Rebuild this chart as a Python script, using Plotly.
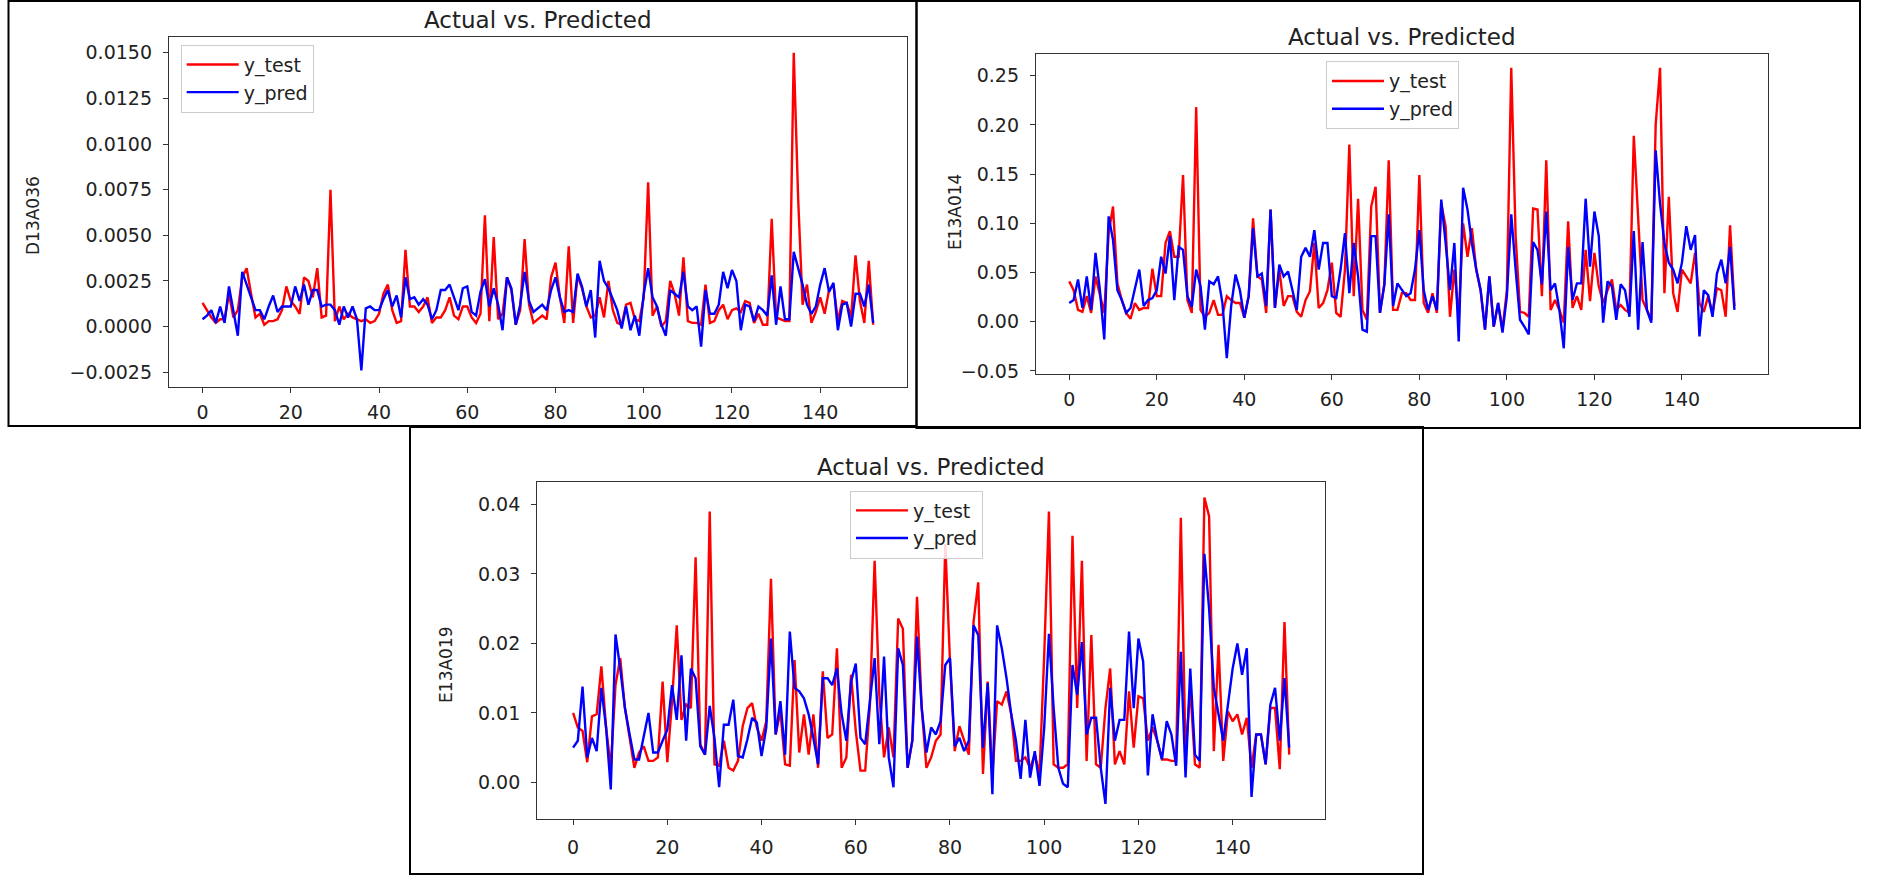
import plotly.graph_objects as go

W, H = 1879, 883

# ---------------- data ----------------
n_points = 153
sample_index = list(range(n_points))
x_tick_vals = [0, 20, 40, 60, 80, 100, 120, 140]

# Panel 1 : D13A036
d13a036_test = [
    0.0013, 0.0009, 0.0005, 0.0002, 0.0004, 0.0004, 0.0018, 0.0005, 0.0009, 0.0027,
    0.0032, 0.0018, 0.0005, 0.0007, 0.0001, 0.0003, 0.0003, 0.0004, 0.0009, 0.0022,
    0.0014, 0.0011, 0.0007, 0.0027, 0.0025, 0.0016, 0.0032, 0.0005, 0.0006, 0.0075,
    0.0003, 0.0011, 0.0004, 0.0007, 0.0005, 0.0004, 0.0003, 0.0004, 0.0002, 0.0003,
    0.0007, 0.0018, 0.0023, 0.0009, 0.0002, 0.0003, 0.0042, 0.0011, 0.0011, 0.0008,
    0.0011, 0.0016, 0.0002, 0.0005, 0.0005, 0.0009, 0.0016, 0.0006, 0.0004, 0.0011,
    0.0011, 0.0005, 0.0002, 0.0007, 0.0061, 0.0003, 0.0049, 0.0004, 0.0007, 0.0027,
    0.0020, 0.0001, 0.0009, 0.0048, 0.0012, 0.0002, 0.0004, 0.0006, 0.0004, 0.0027,
    0.0035, 0.0016, 0.0002, 0.0044, 0.0002, 0.0028, 0.0021, 0.0011, 0.0005, 0.0006,
    0.0016, 0.0005, 0.0025, 0.0009, 0.0002, 0.0001, 0.0012, 0.0013, 0.0004, 0.0003,
    0.0016, 0.0079, 0.0006, 0.0011, 0.0000, 0.0003, 0.0025, 0.0018, 0.0006, 0.0038,
    0.0003, 0.0002, 0.0002, 0.0001, 0.0023, 0.0002, 0.0003, 0.0009, 0.0012, 0.0004,
    0.0009, 0.0010, 0.0008, 0.0014, 0.0013, 0.0002, 0.0007, 0.0001, 0.0001, 0.0059,
    0.0005, 0.0004, 0.0003, 0.0003, 0.0150, 0.0070, 0.0012, 0.0023, 0.0002, 0.0008,
    0.0016, 0.0007, 0.0020, 0.0023, 0.0003, 0.0014, 0.0013, 0.0005, 0.0039, 0.0014,
    0.0002, 0.0036, 0.0001,
]
d13a036_pred = [
    0.0004, 0.0006, 0.0009, 0.0002, 0.0011, 0.0002, 0.0022, 0.0008, -0.0005, 0.0030,
    0.0023, 0.0016, 0.0009, 0.0009, 0.0004, 0.0011, 0.0017, 0.0008, 0.0011, 0.0011,
    0.0011, 0.0022, 0.0014, 0.0023, 0.0012, 0.0020, 0.0020, 0.0011, 0.0012, 0.0012,
    0.0009, 0.0001, 0.0011, 0.0005, 0.0011, 0.0004, -0.0024, 0.0010, 0.0011, 0.0009,
    0.0009, 0.0015, 0.0020, 0.0011, 0.0017, 0.0005, 0.0027, 0.0015, 0.0016, 0.0012,
    0.0015, 0.0012, 0.0004, 0.0009, 0.0020, 0.0020, 0.0023, 0.0016, 0.0009, 0.0021,
    0.0022, 0.0008, 0.0006, 0.0019, 0.0026, 0.0011, 0.0021, 0.0012, -0.0002, 0.0027,
    0.0021, 0.0001, 0.0012, 0.0030, 0.0014, 0.0008, 0.0010, 0.0012, 0.0009, 0.0020,
    0.0027, 0.0016, 0.0008, 0.0009, 0.0008, 0.0029, 0.0022, 0.0011, 0.0020, -0.0006,
    0.0036, 0.0025, 0.0021, 0.0015, 0.0009, -0.0001, 0.0011, -0.0002, 0.0006, -0.0005,
    0.0018, 0.0032, 0.0016, 0.0011, 0.0001, -0.0005, 0.0020, 0.0018, 0.0016, 0.0030,
    0.0011, 0.0009, 0.0011, -0.0011, 0.0020, 0.0007, 0.0007, 0.0012, 0.0030, 0.0021,
    0.0031, 0.0025, -0.0002, 0.0012, 0.0011, 0.0003, 0.0011, 0.0009, 0.0006, 0.0028,
    0.0001, 0.0022, 0.0004, 0.0004, 0.0041, 0.0032, 0.0023, 0.0012, 0.0007, 0.0011,
    0.0023, 0.0032, 0.0019, 0.0024, -0.0002, 0.0012, 0.0013, 0.0000, 0.0018, 0.0018,
    0.0011, 0.0023, 0.0002,
]

# Panel 2 : E13A014
e13a014_test = [
    0.041, 0.032, 0.012, 0.010, 0.026, 0.009, 0.046, 0.026, 0.009, 0.090,
    0.117, 0.039, 0.022, 0.009, 0.003, 0.019, 0.012, 0.014, 0.014, 0.054,
    0.026, 0.026, 0.080, 0.092, 0.066, 0.066, 0.149, 0.022, 0.009, 0.218,
    0.012, 0.005, 0.009, 0.022, 0.007, 0.007, 0.026, 0.022, 0.019, 0.019,
    0.004, 0.026, 0.105, 0.046, 0.043, 0.009, 0.114, 0.014, 0.053, 0.016,
    0.026, 0.026, 0.010, 0.005, 0.022, 0.031, 0.080, 0.014, 0.019, 0.032,
    0.060, 0.009, 0.005, 0.053, 0.180, 0.026, 0.125, 0.012, 0.002, 0.117,
    0.137, 0.009, 0.038, 0.164, 0.012, 0.012, 0.029, 0.029, 0.022, 0.022,
    0.149, 0.019, 0.009, 0.029, 0.009, 0.120, 0.097, 0.005, 0.053, 0.005,
    0.100, 0.066, 0.095, 0.053, 0.032, -0.008, 0.046, -0.005, 0.019, -0.008,
    0.032, 0.258, 0.087, 0.010, 0.009, 0.005, 0.115, 0.114, 0.026, 0.164,
    0.012, 0.022, 0.012, -0.001, 0.102, 0.014, 0.026, 0.012, 0.073, 0.021,
    0.070, 0.036, 0.019, 0.032, 0.043, 0.012, 0.017, 0.012, 0.009, 0.189,
    0.100, 0.022, 0.012, 0.002, 0.200, 0.258, 0.029, 0.127, 0.029, 0.010,
    0.053, 0.046, 0.039, 0.070, 0.019, 0.010, 0.026, 0.009, 0.034, 0.032,
    0.005, 0.098, 0.016,
]
e13a014_pred = [
    0.019, 0.022, 0.043, 0.014, 0.046, 0.012, 0.070, 0.032, -0.018, 0.107,
    0.083, 0.032, 0.022, 0.009, 0.014, 0.032, 0.053, 0.016, 0.022, 0.024,
    0.032, 0.066, 0.049, 0.087, 0.022, 0.076, 0.073, 0.026, 0.015, 0.053,
    0.036, -0.008, 0.041, 0.038, 0.046, 0.019, -0.037, 0.016, 0.048, 0.032,
    0.004, 0.026, 0.095, 0.046, 0.049, 0.016, 0.114, 0.014, 0.058, 0.046,
    0.051, 0.032, 0.012, 0.066, 0.075, 0.066, 0.093, 0.053, 0.080, 0.080,
    0.026, 0.024, 0.053, 0.090, 0.029, 0.080, 0.046, -0.008, -0.010, 0.087,
    0.087, 0.009, 0.038, 0.109, 0.016, 0.039, 0.032, 0.026, 0.029, 0.053,
    0.093, 0.032, 0.012, 0.026, 0.012, 0.124, 0.080, 0.032, 0.080, -0.020,
    0.136, 0.114, 0.080, 0.053, 0.032, -0.008, 0.046, -0.005, 0.019, -0.011,
    0.026, 0.109, 0.053, 0.002, -0.005, -0.013, 0.081, 0.073, 0.038, 0.112,
    0.032, 0.039, 0.012, -0.027, 0.076, 0.022, 0.039, 0.039, 0.125, 0.056,
    0.112, 0.087, -0.001, 0.041, 0.036, 0.002, 0.038, 0.032, 0.005, 0.092,
    -0.008, 0.081, 0.012, -0.001, 0.174, 0.120, 0.080, 0.060, 0.053, 0.039,
    0.060, 0.097, 0.073, 0.088, -0.015, 0.032, 0.027, 0.005, 0.049, 0.063,
    0.039, 0.076, 0.012,
]

# Panel 3 : E13A019
e13a019_test = [
    0.0100, 0.0079, 0.0074, 0.0029, 0.0095, 0.0098, 0.0167, 0.0079, 0.0021, 0.0140,
    0.0179, 0.0107, 0.0064, 0.0021, 0.0043, 0.0052, 0.0031, 0.0031, 0.0036, 0.0145,
    0.0029, 0.0117, 0.0226, 0.0090, 0.0112, 0.0107, 0.0324, 0.0055, 0.0040, 0.0390,
    0.0026, 0.0024, 0.0060, 0.0021, 0.0017, 0.0031, 0.0081, 0.0107, 0.0114, 0.0079,
    0.0060, 0.0088, 0.0293, 0.0069, 0.0102, 0.0026, 0.0024, 0.0176, 0.0043, 0.0098,
    0.0040, 0.0098, 0.0021, 0.0160, 0.0064, 0.0069, 0.0193, 0.0021, 0.0036, 0.0155,
    0.0074, 0.0017, 0.0017, 0.0112, 0.0319, 0.0126, 0.0036, 0.0079, 0.0036, 0.0236,
    0.0221, 0.0021, 0.0060, 0.0267, 0.0107, 0.0021, 0.0036, 0.0060, 0.0069, 0.0343,
    0.0174, 0.0045, 0.0081, 0.0060, 0.0040, 0.0231, 0.0288, 0.0012, 0.0145, 0.0010,
    0.0117, 0.0112, 0.0131, 0.0098, 0.0031, 0.0031, 0.0036, 0.0021, 0.0040, 0.0012,
    0.0183, 0.0390, 0.0026, 0.0021, 0.0021, 0.0026, 0.0355, 0.0107, 0.0319, 0.0031,
    0.0212, 0.0026, 0.0021, 0.0107, 0.0164, 0.0026, 0.0045, 0.0026, 0.0131, 0.0050,
    0.0124, 0.0121, 0.0060, 0.0079, 0.0060, 0.0033, 0.0033, 0.0031, 0.0031, 0.0381,
    0.0040, 0.0136, 0.0026, 0.0021, 0.0410, 0.0383, 0.0045, 0.0198, 0.0031, 0.0102,
    0.0088, 0.0098, 0.0069, 0.0093, 0.0021, 0.0069, 0.0069, 0.0026, 0.0107, 0.0107,
    0.0019, 0.0231, 0.0040,
]
e13a019_pred = [
    0.0050, 0.0060, 0.0138, 0.0036, 0.0064, 0.0045, 0.0136, 0.0079, -0.0010, 0.0213,
    0.0164, 0.0107, 0.0069, 0.0033, 0.0033, 0.0069, 0.0100, 0.0043, 0.0043, 0.0060,
    0.0076, 0.0140, 0.0090, 0.0183, 0.0060, 0.0164, 0.0150, 0.0052, 0.0040, 0.0110,
    0.0064, -0.0007, 0.0083, 0.0083, 0.0119, 0.0038, 0.0036, 0.0062, 0.0093, 0.0086,
    0.0038, 0.0079, 0.0207, 0.0069, 0.0117, 0.0040, 0.0217, 0.0136, 0.0131, 0.0121,
    0.0098, 0.0064, 0.0026, 0.0150, 0.0150, 0.0140, 0.0164, 0.0098, 0.0060, 0.0145,
    0.0171, 0.0064, 0.0055, 0.0117, 0.0179, 0.0055, 0.0181, 0.0036, -0.0007, 0.0193,
    0.0169, 0.0021, 0.0060, 0.0210, 0.0107, 0.0043, 0.0079, 0.0069, 0.0088, 0.0169,
    0.0179, 0.0052, 0.0064, 0.0045, 0.0060, 0.0226, 0.0212, 0.0050, 0.0143, -0.0017,
    0.0226, 0.0193, 0.0150, 0.0098, 0.0060, 0.0005, 0.0090, 0.0007, 0.0045, -0.0005,
    0.0079, 0.0214, 0.0107, 0.0021, -0.0002, -0.0007, 0.0169, 0.0126, 0.0202, 0.0069,
    0.0093, 0.0093, 0.0021, -0.0031, 0.0136, 0.0060, 0.0090, 0.0090, 0.0217, 0.0107,
    0.0207, 0.0174, 0.0010, 0.0098, 0.0060, 0.0033, 0.0088, 0.0069, 0.0024, 0.0188,
    0.0007, 0.0164, 0.0040, 0.0031, 0.0329, 0.0250, 0.0136, 0.0098, 0.0060, 0.0112,
    0.0164, 0.0200, 0.0155, 0.0193, -0.0021, 0.0069, 0.0069, 0.0026, 0.0112, 0.0136,
    0.0060, 0.0150, 0.0050,
]

panel_titles = ["Actual vs. Predicted", "Actual vs. Predicted", "Actual vs. Predicted"]
panel_ylabels = ["D13A036", "E13A014", "E13A019"]

# ---------------- figure ----------------
FONT = "DejaVu Sans"
TXT = "#222222"
RED = "#ff0000"
BLUE = "#0000ff"


def px_x(p):
    return p / W


def px_y(p):
    return 1 - p / H


fig = go.Figure()

panels = [
    dict(test=d13a036_test, pred=d13a036_pred, xa="x", ya="y", lg="legend"),
    dict(test=e13a014_test, pred=e13a014_pred, xa="x2", ya="y2", lg="legend2"),
    dict(test=e13a019_test, pred=e13a019_pred, xa="x3", ya="y3", lg="legend3"),
]
for p in panels:
    fig.add_trace(go.Scatter(x=sample_index, y=p["test"], mode="lines", name="y_test",
                             line=dict(color=RED, width=2.4), xaxis=p["xa"], yaxis=p["ya"],
                             legend=p["lg"]))
    fig.add_trace(go.Scatter(x=sample_index, y=p["pred"], mode="lines", name="y_pred",
                             line=dict(color=BLUE, width=2.4), xaxis=p["xa"], yaxis=p["ya"],
                             legend=p["lg"]))


def axis(domain, rng, dtick, fmt, anchor, standoff):
    return dict(domain=domain, range=rng, dtick=dtick, tick0=0, tickformat=fmt,
                anchor=anchor, showgrid=False, zeroline=False, showline=True, mirror=True,
                linecolor="#333333", linewidth=1.4, ticks="outside", ticklen=5,
                tickwidth=1.3, tickcolor="#333333", ticklabelstandoff=standoff,
                tickfont=dict(family=FONT, size=19, color=TXT))


xr = [-7.6, 159.6]
layout_axes = dict(
    xaxis=axis([px_x(169), px_x(906.7)], xr, 20, "d", "y", 3),
    yaxis=axis([px_y(390.7), px_y(37.3)], [-0.00332, 0.01587], 0.0025, ".4f", "x", 7),
    xaxis2=axis([px_x(1036), px_x(1767.7)], xr, 20, "d", "y2", 3),
    yaxis2=axis([px_y(377.3), px_y(54)], [-0.053, 0.2725], 0.05, ".2f", "x2", 7),
    xaxis3=axis([px_x(537.3), px_x(1325)], xr, 20, "d", "y3", 6),
    yaxis3=axis([px_y(826.7), px_y(486.7)], [-0.0053, 0.0432], 0.01, ".2f", "x3", 7),
)


def legend(x, y):
    return dict(x=px_x(x), y=px_y(y), xanchor="left", yanchor="top",
                bgcolor="rgba(255,255,255,0.85)", bordercolor="#cccccc", borderwidth=1,
                font=dict(family=FONT, size=19, color=TXT), tracegroupgap=0,
                itemwidth=52)


annotations = []
title_pos = [(538, 20), (1402, 37), (931, 471)]
for (cx, cy), t in zip(title_pos, panel_titles):
    annotations.append(dict(text=t, x=px_x(cx), y=px_y(cy), xref="paper", yref="paper",
                            xanchor="center", yanchor="middle", showarrow=False,
                            font=dict(family=FONT, size=23, color=TXT)))
ylabel_pos = [(33, 218), (955, 214), (446, 671)]
for (cx, cy), t in zip(ylabel_pos, panel_ylabels):
    annotations.append(dict(text=t, x=px_x(cx), y=px_y(cy), xref="paper", yref="paper",
                            xanchor="center", yanchor="middle", showarrow=False,
                            textangle=-90, font=dict(family=FONT, size=17, color=TXT)))

shapes = []
boxes = [(8.5, 1, 916.5, 430), (916.5, 1, 1860, 432), (410, 431, 1423, 882)]
for x0, y0, x1, y1 in boxes:
    shapes.append(dict(type="rect", xref="paper", yref="paper",
                       x0=px_x(x0), x1=px_x(x1), y0=px_y(y1), y1=px_y(y0),
                       line=dict(color="#000000", width=2), fillcolor="rgba(0,0,0,0)"))

fig.update_layout(
    width=W, height=H, margin=dict(l=0, r=0, t=0, b=0),
    paper_bgcolor="white", plot_bgcolor="white",
    font=dict(family=FONT, color=TXT),
    legend=legend(180.7, 45),
    legend2=legend(1326, 61.7),
    legend3=legend(850, 495),
    annotations=annotations, shapes=shapes,
    **layout_axes,
)

fig.write_html("out.html")
